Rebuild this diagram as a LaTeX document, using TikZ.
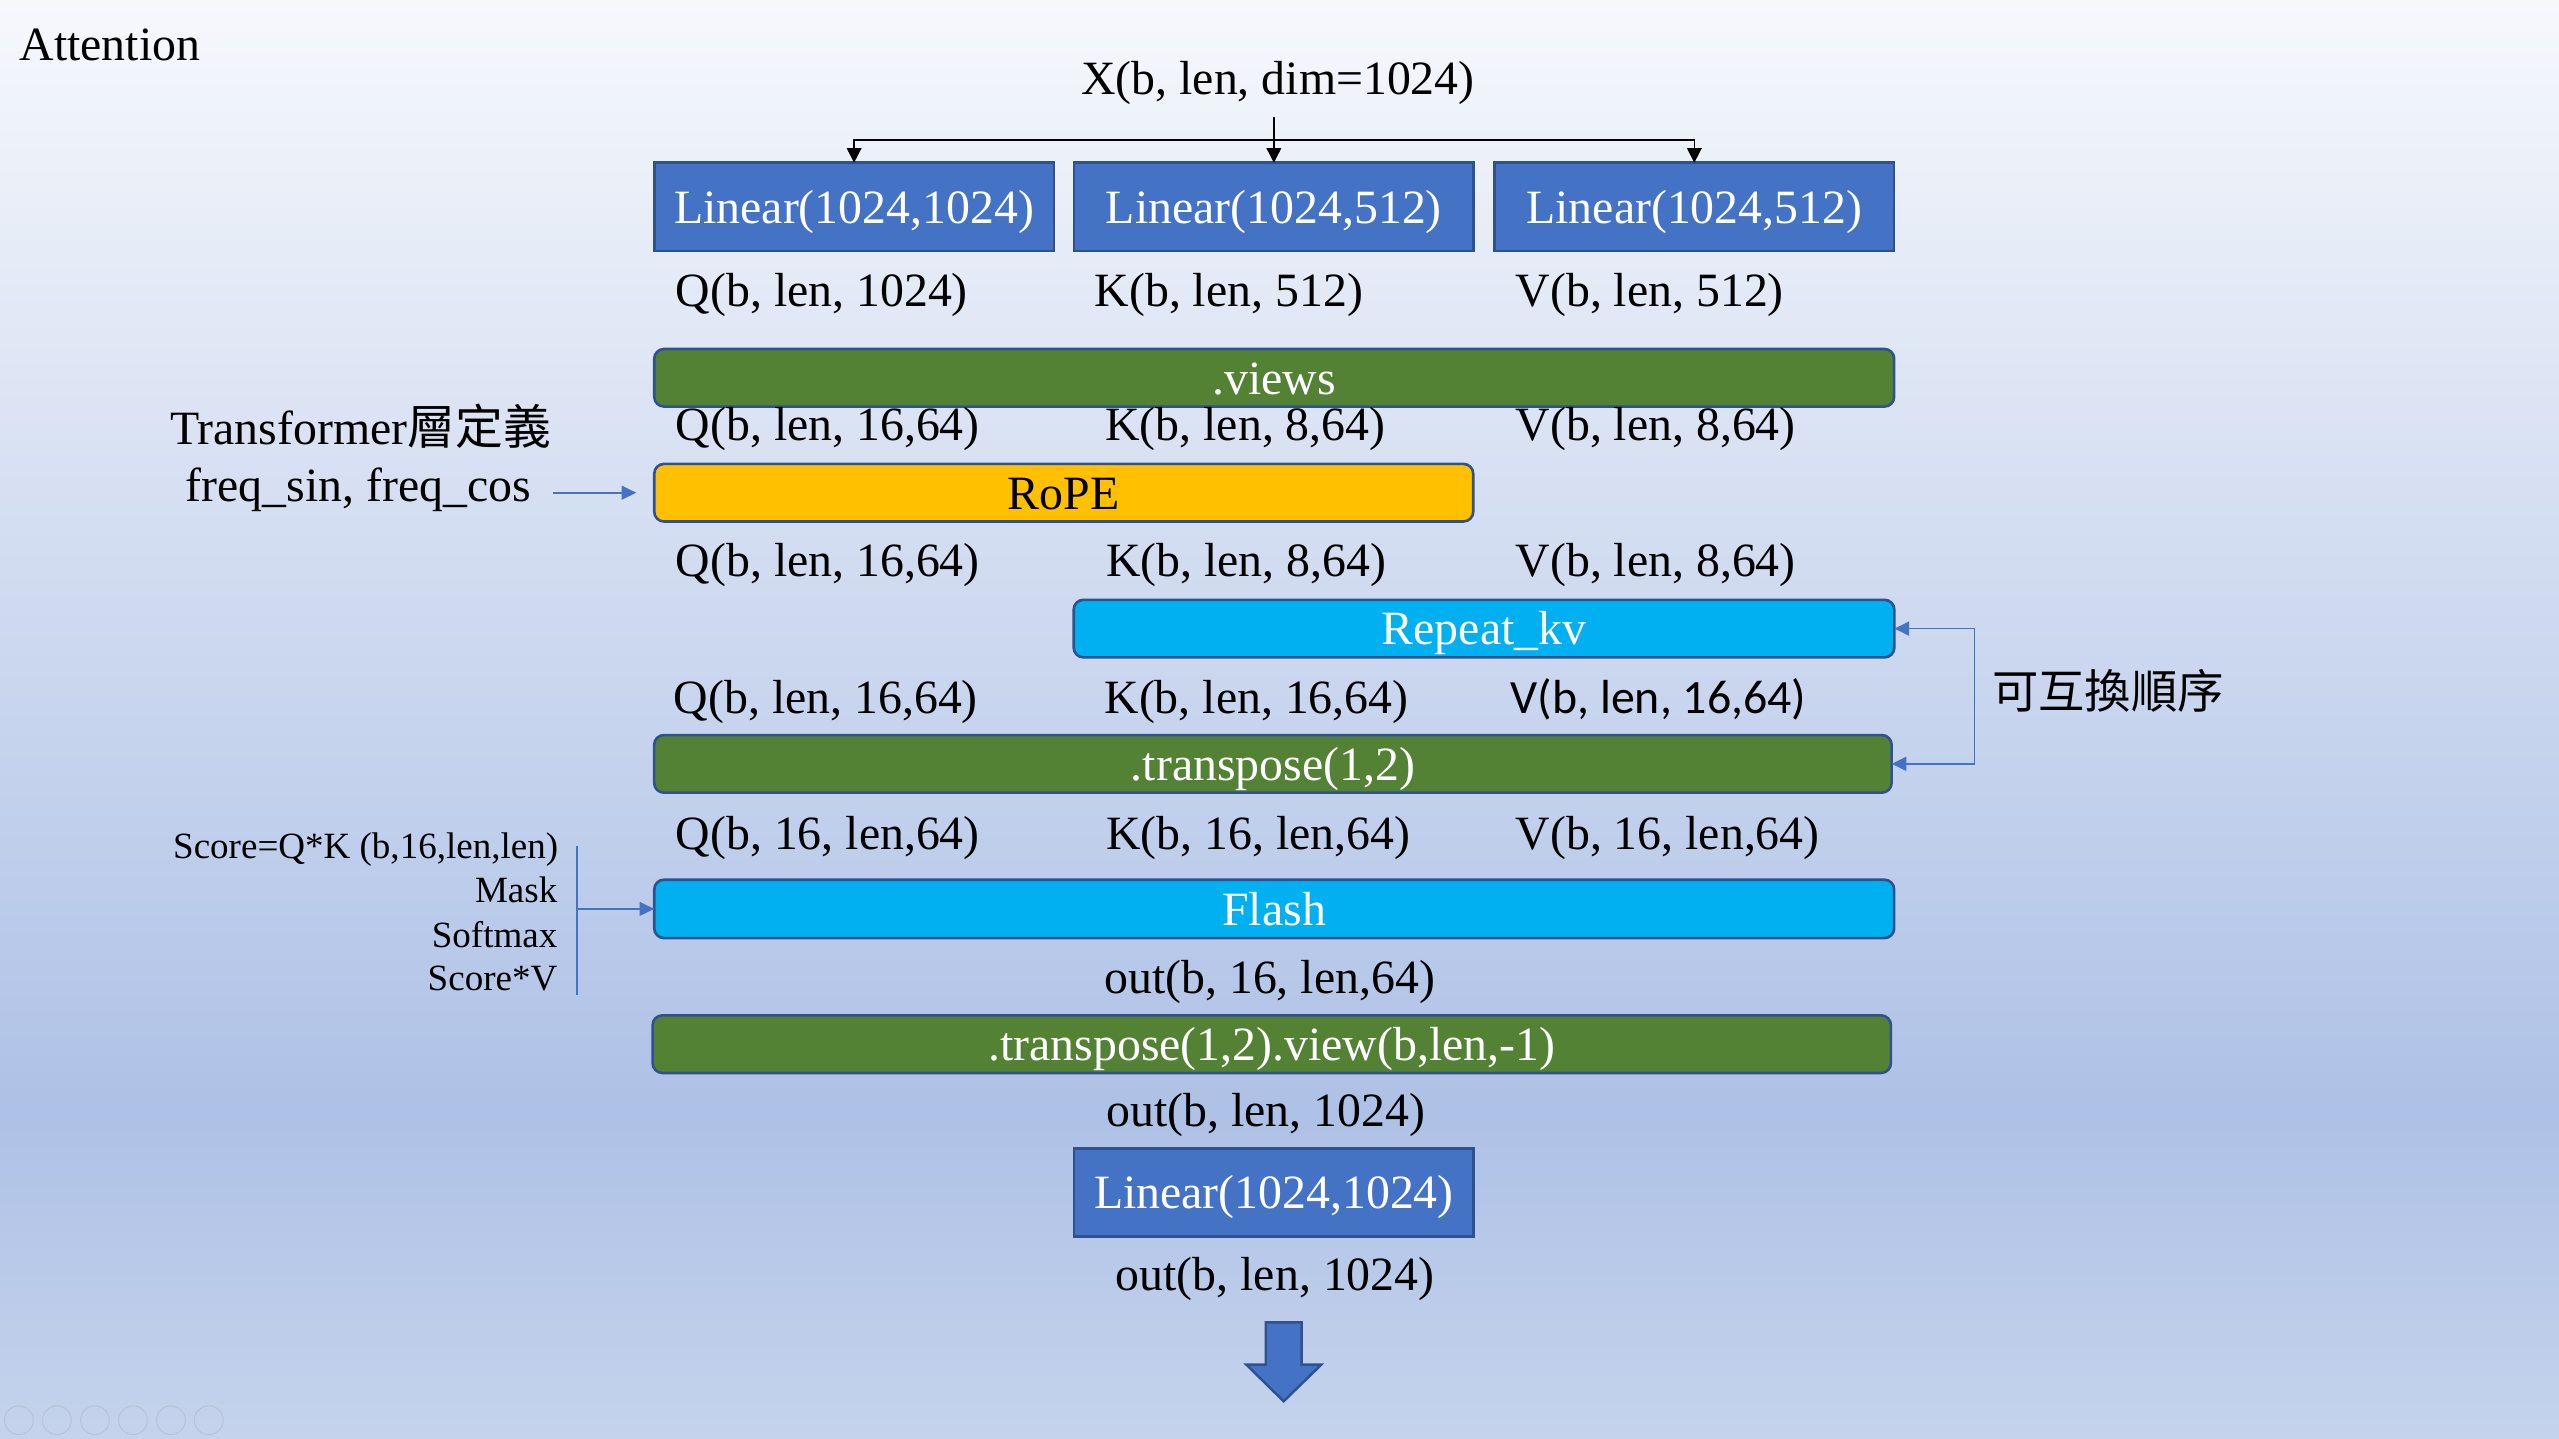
\documentclass[tikz,border=0pt]{standalone}
\usepackage{fontspec}
\setmainfont{Liberation Serif}
\newfontfamily\cjk{Noto Sans CJK TC}
\newfontfamily\calib{Carlito}
\usetikzlibrary{arrows.meta}
\definecolor{boxblue}{HTML}{4472C4}
\definecolor{edgeblue}{HTML}{2F528F}
\definecolor{bargreen}{HTML}{548235}
\definecolor{cyanbox}{HTML}{00B0F0}
\definecolor{goldbox}{HTML}{FFC000}
\definecolor{bgtop}{HTML}{F6F8FC}
\definecolor{bgmid}{HTML}{AEC1E6}
\definecolor{bgbot}{HTML}{C5D3EC}
\definecolor{iconc}{HTML}{A9B3C6}
\begin{document}
\begin{tikzpicture}[x=1pt,y=-1pt,
  every node/.style={inner sep=0pt,outer sep=0pt},
  txt/.style={font=\fontsize{29.3}{32}\selectfont},
  smalltxt/.style={font=\fontsize{22.7}{25}\selectfont,anchor=base east},
  rowtxt/.style={txt,anchor=base west},
  ctrtxt/.style={txt,anchor=base},
  boxlbl/.style={text height=20pt,text depth=0pt},
  linbox/.style={txt,boxlbl,draw=edgeblue,line width=1.6pt,fill=boxblue,text=white,minimum width=245pt,minimum height=54pt},
  bar/.style={txt,boxlbl,draw=edgeblue,line width=1.6pt,rounded corners=6pt,minimum height=35.3pt},
  blackarrow/.style={line width=0.9pt,-{Triangle[length=9pt,width=9pt]}},
  bluearrow/.style={draw=boxblue,line width=1pt,-{Triangle[length=9pt,width=8.5pt]}},
]
\useasboundingbox (0,0) rectangle (1568.5,882);
\shade[top color=bgtop,bottom color=bgmid] (0,0) rectangle (1568.5,680);
\shade[top color=bgmid,bottom color=bgbot] (0,680) rectangle (1568.5,882);

% faint slideshow icons
\foreach \cx in {11.6,34.9,58.2,81.5,104.8,128}
  \draw[iconc,line width=0.6pt,opacity=0.5] (\cx,870.5) circle (8.8pt);

\node[txt,anchor=base west] (title) at (12,37.2) {Attention};
\node[ctrtxt] (X) at (783.3,58.2) {X(b, len, dim=1024)};

\node[linbox] (lin1) at (523.5,126.75) {Linear(1024,1024)};
\node[linbox] (lin2) at (780.8,126.75) {Linear(1024,512)};
\node[linbox] (lin3) at (1038.5,126.75) {Linear(1024,512)};

\coordinate (xtop) at (780.8,71.9);
\coordinate (split) at (780.8,85.8);
\draw[line width=0.9pt] (xtop) -- (split);
\draw[blackarrow] (split) -- (lin2.north);
\draw[blackarrow] (split) -| (lin1.north);
\draw[blackarrow] (split) -| (lin3.north);

\node[rowtxt] (q1) at (414.2,187.9) {Q(b, len, 1024)};
\node[rowtxt] (k1) at (671,187.9) {K(b, len, 512)};
\node[rowtxt] (v1) at (929,187.9) {V(b, len, 512)};

\node[bar,fill=bargreen,text=white,minimum width=760pt] (views) at (781,231.55) {.views};

\node[rowtxt] (q2) at (414.2,270.2) {Q(b, len, 16,64)};
\node[rowtxt] (k2) at (677.5,270.2) {K(b, len, 8,64)};
\node[rowtxt] (v2) at (929,270.2) {V(b, len, 8,64)};

\node[ctrtxt] (tdef) at (221,272.4) {Transformer{\cjk 層定義}};
\node[ctrtxt] (freq) at (219.6,307.5) {freq\_sin, freq\_cos};

\node[bar,fill=goldbox,text=black,minimum width=502pt] (rope) at (652,302) {RoPE};
\coordinate (fstart) at (339,302);
\draw[bluearrow,shorten >=11pt] (fstart) -- (rope.west);

\node[rowtxt] (q3) at (414.2,353.3) {Q(b, len, 16,64)};
\node[rowtxt] (k3) at (678,353.3) {K(b, len, 8,64)};
\node[rowtxt] (v3) at (929,353.3) {V(b, len, 8,64)};

\node[bar,fill=cyanbox,text=white,minimum width=503pt] (rk) at (909.6,385.3) {Repeat\_kv};

\node[rowtxt] (q4) at (413,437.1) {Q(b, len, 16,64)};
\node[rowtxt] (k4) at (677,437.1) {K(b, len, 16,64)};
\node[rowtxt,font=\calib\fontsize{29.3}{32}\selectfont] (v4) at (926,437.1) {V(b, len, 16,64)};

\node[bar,fill=bargreen,text=white,minimum width=758.5pt] (tr) at (780.2,468.2) {.transpose(1,2)};

\coordinate (brk) at (1210.2,385.3);
\draw[bluearrow,{Triangle[length=9pt,width=8.5pt]}-{Triangle[length=9pt,width=8.5pt]}] (rk.east) -- (brk) |- (tr.east);
\node[txt,anchor=west,font=\cjk\fontsize{28.4}{30}\selectfont] (swap) at (1221,423.3) {可互換順序};

\node[rowtxt] (q5) at (414.2,520.8) {Q(b, 16, len,64)};
\node[rowtxt] (k5) at (678,520.8) {K(b, 16, len,64)};
\node[rowtxt] (v5) at (929,520.8) {V(b, 16, len,64)};

\node[smalltxt] (sc) at (342.1,526) {Score=Q*K (b,16,len,len)};
\node[smalltxt] (mask) at (341.6,553.1) {Mask};
\node[smalltxt] (soft) at (341.6,580.5) {Softmax};
\node[smalltxt] (scv) at (341.6,607.2) {Score*V};

\node[bar,fill=cyanbox,text=white,minimum width=760pt,minimum height=35.8pt] (flash) at (781,557.1) {Flash};

\coordinate (sb1) at (353.7,518.3);
\coordinate (sb2) at (353.7,609.6);
\draw[boxblue,line width=1pt] (sb1) -- (sb2);
\draw[bluearrow] (sb1 |- flash.west) -- (flash.west);

\node[ctrtxt] (o1) at (778.2,608.7) {out(b, 16, len,64)};
\node[bar,fill=bargreen,text=white,minimum width=759pt] (trv) at (779.5,640) {.transpose(1,2).view(b,len,-1)};
\node[ctrtxt] (o2) at (775.9,690.4) {out(b, len, 1024)};
\node[linbox] (lin4) at (780.8,731) {Linear(1024,1024)};
\node[ctrtxt] (o3) at (781.6,790.9) {out(b, len, 1024)};

\draw[fill=boxblue,draw=edgeblue,line width=1.5pt,line join=miter]
  (775.8,810.5) -- (797.8,810.5) -- (797.8,836.4) -- (809.9,836.4) -- (786.8,858.9) -- (763.9,836.4) -- (775.8,836.4) -- cycle;
\end{tikzpicture}
\end{document}
